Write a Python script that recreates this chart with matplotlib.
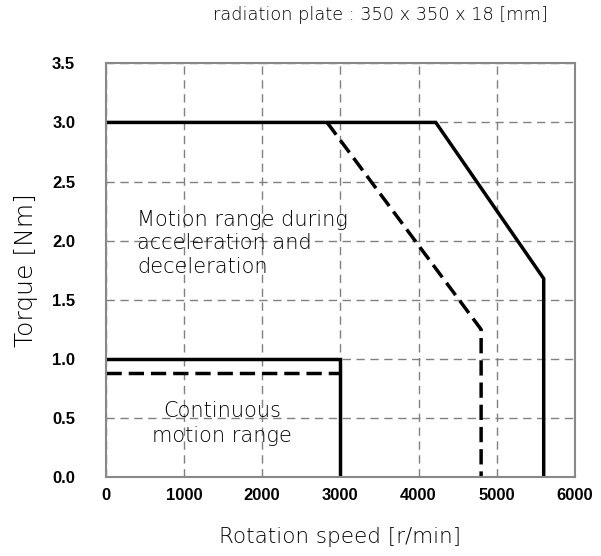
import matplotlib
matplotlib.use("Agg")
import matplotlib.pyplot as plt

# Data
peak_speed = [0, 4220, 5600, 5600]
peak_torque = [3.0, 3.0, 1.68, 0.0]
peak2_speed = [2830, 4800, 4800]
peak2_torque = [3.0, 1.25, 0.0]
cont_speed = [0, 3000, 3000]
cont_torque = [1.0, 1.0, 0.0]
cont2_speed = [0, 3000]
cont2_torque = [0.88, 0.88]
xticks = [0, 1000, 2000, 3000, 4000, 5000, 6000]
yticks = [0.0, 0.5, 1.0, 1.5, 2.0, 2.5, 3.0, 3.5]

TXT = dict(fontfamily='DejaVu Sans', fontweight='light', color='black')

fig = plt.figure(figsize=(6.01, 5.56), dpi=100)
ax = fig.add_axes([0.1759, 0.1415, 0.9567 - 0.1759, 0.8862 - 0.1415])

ax.plot(peak_speed, peak_torque, color='black', lw=2.5, solid_joinstyle='miter')
ax.plot(peak2_speed, peak2_torque, color='black', lw=2.5, dashes=(4.4, 2.0))
ax.plot(cont_speed, cont_torque, color='black', lw=2.5, solid_joinstyle='miter')
ax.plot(cont2_speed, cont2_torque, color='black', lw=2.5, dashes=(4.4, 2.0))

ax.set_xlim(0, 6000)
ax.set_ylim(0, 3.5)
ax.set_xticks(xticks)
ax.set_yticks(yticks)
ax.set_xticklabels([str(v) for v in xticks], fontfamily='Liberation Sans',
                   fontweight='bold', fontsize=12)
ax.set_yticklabels([f"{v:.1f}" for v in yticks], fontfamily='Liberation Sans',
                   fontweight='bold', fontsize=12)
ax.grid(True, color='#808080', linestyle=(0, (6, 4)), lw=1.0)
ax.tick_params(length=0)
ax.tick_params(axis='y', pad=22)
ax.tick_params(axis='x', pad=8)
for s in ax.spines.values():
    s.set_color('#888888')
    s.set_linewidth(1.5)

ax.set_xlabel('Rotation speed [r/min]', fontsize=15.5, labelpad=17, **TXT)
ax.set_ylabel('Torque [Nm]', fontsize=18, labelpad=10, **TXT)

ax.text(400, 1.98, 'Motion range during\nacceleration and\ndeceleration', fontsize=15,
        ha='left', va='center', linespacing=1.22, **TXT)
ax.text(1490, 0.455, 'Continuous\nmotion range', fontsize=15,
        ha='center', va='center', linespacing=1.3, **TXT)

fig.text(0.912, 0.973, 'radiation plate : 350 x 350 x 18 [mm]', fontsize=12.8,
         ha='right', va='center', **TXT)

fig.savefig('out.png', dpi=100)
